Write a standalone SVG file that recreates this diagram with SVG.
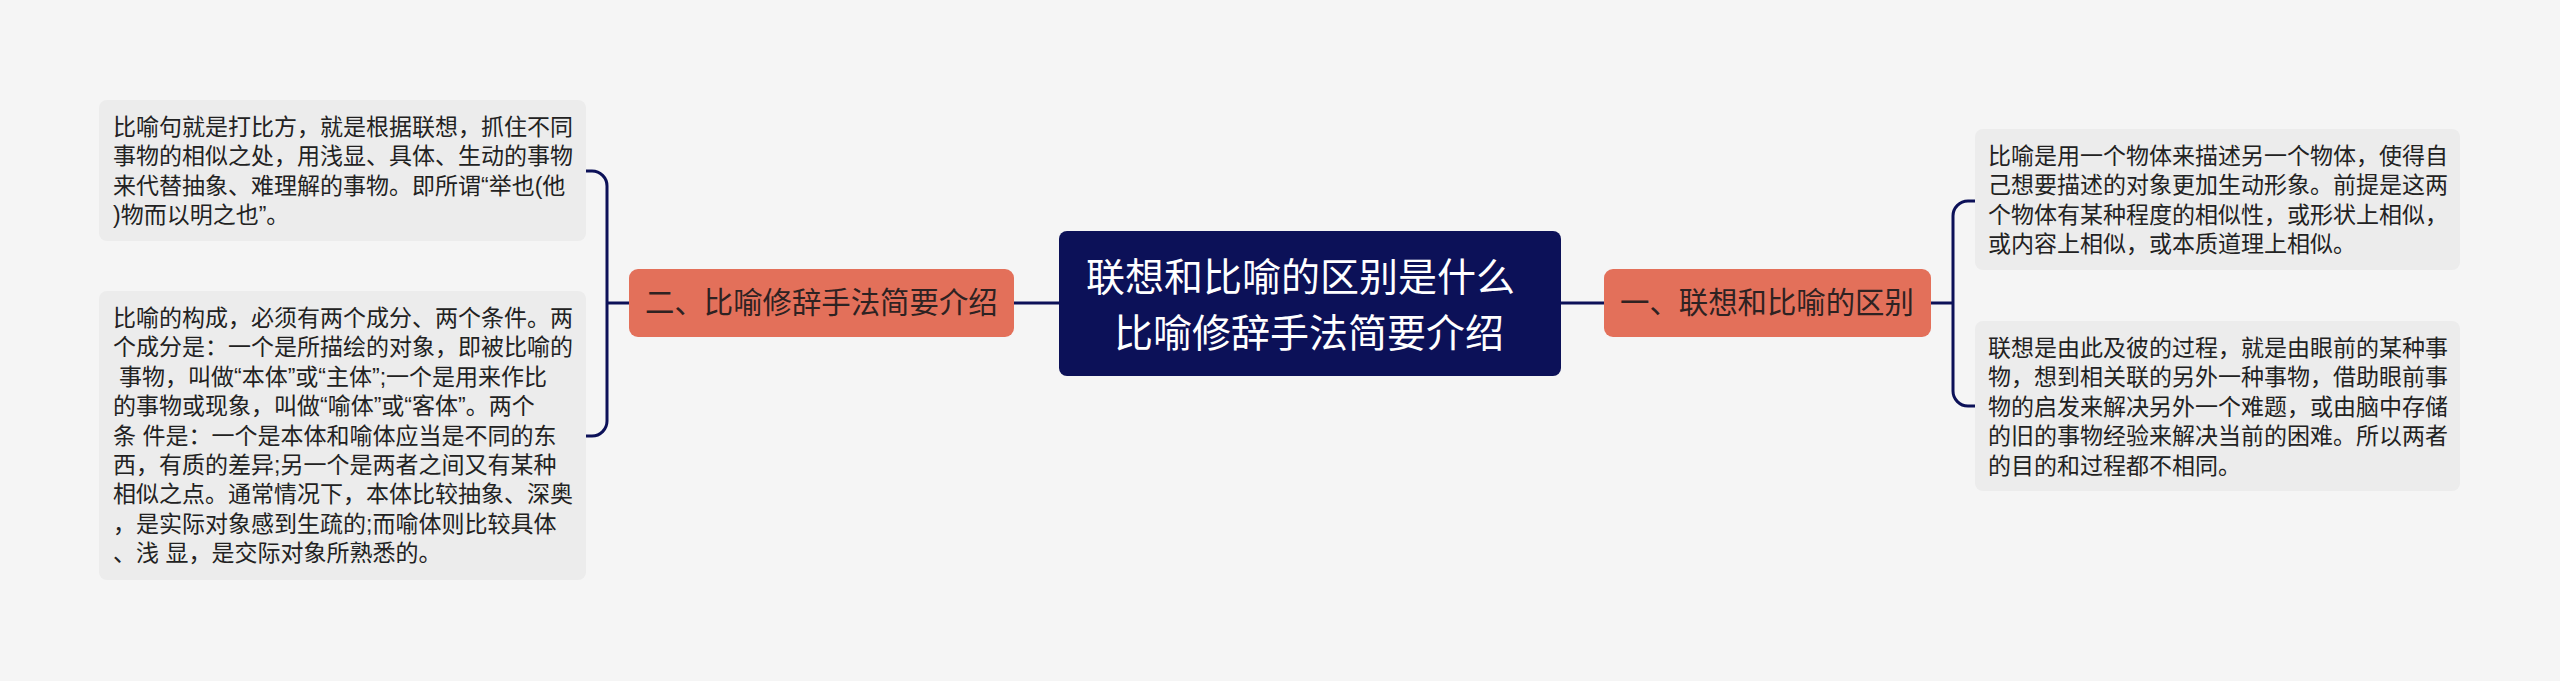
<svg xmlns="http://www.w3.org/2000/svg" width="2560" height="681" viewBox="0 0 2560 681">
<style>
.bg{fill:#f5f5f5}
.conn{fill:none;stroke:#0c1158;stroke-width:3}
.center-box{fill:#0c1158}
.center-text{fill:#ffffff;font-family:"Liberation Sans","Noto Sans CJK SC",sans-serif;font-size:39px}
.branch-box{fill:#e3705a}
.branch-text{fill:#2e2222;font-family:"Liberation Sans","Noto Sans CJK SC",sans-serif;font-size:29.4px}
.leaf-box{fill:#ececec}
.leaf-text{fill:#222222;font-family:"Liberation Sans","Noto Sans CJK SC",sans-serif;font-size:23px}
</style>
<rect class="bg" x="0" y="0" width="2560" height="681"/>
<g id="connectors">
<path class="conn" d="M1059,303 H1014"/>
<path class="conn" d="M629,303 H607"/>
<path class="conn" d="M586,171 H592 A15,15 0 0 1 607,186 V421 A15,15 0 0 1 592,436 H586"/>
<path class="conn" d="M1561,303 H1604"/>
<path class="conn" d="M1931,303 H1953"/>
<path class="conn" d="M1975,201 H1968 A15,15 0 0 0 1953,216 V391 A15,15 0 0 0 1968,406 H1975"/>
</g>
<g id="center">
<rect class="center-box" x="1059" y="231" width="502" height="145" rx="8"/>
<text class="center-text" x="1086" y="291">联想和比喻的区别是什么</text>
<text class="center-text" x="1114" y="347">比喻修辞手法简要介绍</text>
</g>
<g id="branch-left">
<rect class="branch-box" x="629" y="269" width="385" height="68" rx="9"/>
<text class="branch-text" x="645" y="313">二、比喻修辞手法简要介绍</text>
</g>
<g id="branch-right">
<rect class="branch-box" x="1604" y="269" width="327" height="68" rx="9"/>
<text class="branch-text" x="1620" y="313">一、联想和比喻的区别</text>
</g>
<g id="leaf-left-1">
<rect class="leaf-box" x="99" y="100" width="487" height="141" rx="8"/>
<text class="leaf-text">
<tspan x="113" y="135">比喻句就是打比方，就是根据联想，抓住不同</tspan>
<tspan x="113" y="164.4">事物的相似之处，用浅显、具体、生动的事物</tspan>
<tspan x="113" y="193.8">来代替抽象、难理解的事物。即所谓“举也(他</tspan>
<tspan x="113" y="223.2">)物而以明之也”。</tspan>
</text>
</g>
<g id="leaf-left-2">
<rect class="leaf-box" x="99" y="291" width="487" height="289" rx="8"/>
<text class="leaf-text">
<tspan x="113" y="326">比喻的构成，必须有两个成分、两个条件。两</tspan>
<tspan x="113" y="355.4">个成分是：一个是所描绘的对象，即被比喻的</tspan>
<tspan x="119" y="384.8">事物，叫做“本体”或“主体”;一个是用来作比</tspan>
<tspan x="113" y="414.2">的事物或现象，叫做“喻体”或“客体”。两个</tspan>
<tspan x="113" y="443.6">条 件是：一个是本体和喻体应当是不同的东</tspan>
<tspan x="113" y="473">西，有质的差异;另一个是两者之间又有某种</tspan>
<tspan x="113" y="502.4">相似之点。通常情况下，本体比较抽象、深奥</tspan>
<tspan x="113" y="531.8">，是实际对象感到生疏的;而喻体则比较具体</tspan>
<tspan x="113" y="561.2">、浅 显，是交际对象所熟悉的。</tspan>
</text>
</g>
<g id="leaf-right-1">
<rect class="leaf-box" x="1975" y="129" width="485" height="141" rx="8"/>
<text class="leaf-text">
<tspan x="1988" y="164">比喻是用一个物体来描述另一个物体，使得自</tspan>
<tspan x="1988" y="193.4">己想要描述的对象更加生动形象。前提是这两</tspan>
<tspan x="1988" y="222.8">个物体有某种程度的相似性，或形状上相似，</tspan>
<tspan x="1988" y="252.2">或内容上相似，或本质道理上相似。</tspan>
</text>
</g>
<g id="leaf-right-2">
<rect class="leaf-box" x="1975" y="321" width="485" height="170" rx="8"/>
<text class="leaf-text">
<tspan x="1988" y="356">联想是由此及彼的过程，就是由眼前的某种事</tspan>
<tspan x="1988" y="385.4">物，想到相关联的另外一种事物，借助眼前事</tspan>
<tspan x="1988" y="414.8">物的启发来解决另外一个难题，或由脑中存储</tspan>
<tspan x="1988" y="444.2">的旧的事物经验来解决当前的困难。所以两者</tspan>
<tspan x="1988" y="473.6">的目的和过程都不相同。</tspan>
</text>
</g>
</svg>
